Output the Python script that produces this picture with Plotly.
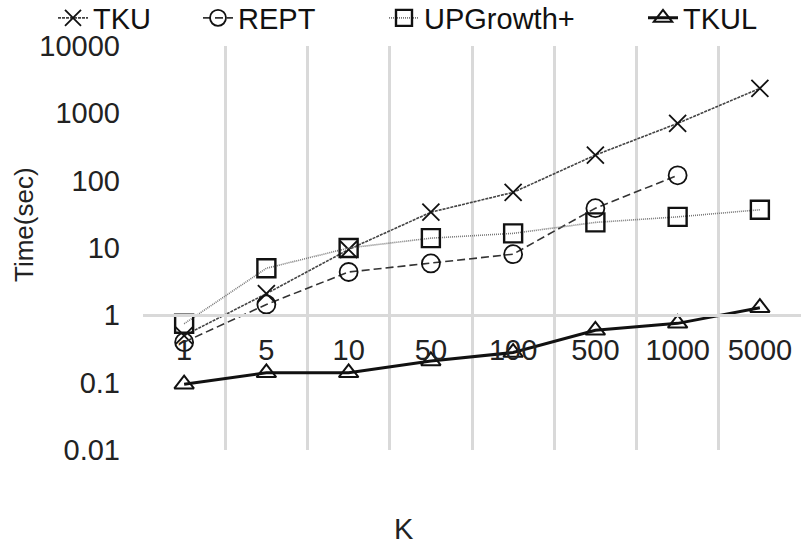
import plotly.graph_objects as go

# Running time (sec) versus K for each algorithm
k_values = ["1", "5", "10", "50", "100", "500", "1000", "5000"]
tku = [0.5, 2.1, 9.5, 34, 67, 240, 710, 2350]
rept = [0.4, 1.45, 4.4, 5.9, 8.1, 39, 120, None]
upgrowth = [0.75, 5.0, 10, 14, 16.5, 24, 29, 37]
tkul = [0.095, 0.14, 0.14, 0.21, 0.28, 0.6, 0.76, 1.3]

y_ticks = [0.01, 0.1, 1, 10, 100, 1000, 10000]
y_tick_text = ["0.01", "0.1", "1", "10", "100", "1000", "10000"]

W, H = 802, 546
FONT = "Liberation Sans, Arial, sans-serif"
GRID = "#d9d9d9"
FS = 29

series = [
    dict(name="TKU", y=tku, symbol="x-thin-open", size=17, mlw=1.8,
         color="#444444", lw=1.6, dash="3px,1px", legend="legend", lx=77),
    dict(name="REPT", y=rept, symbol="circle-open", size=18, mlw=1.8,
         color="#333333", lw=1.6, dash="8px,4px", legend="legend2", lx=222),
    dict(name="UPGrowth+", y=upgrowth, symbol="square-open", size=18, mlw=2.4,
         color="#777777", lw=1.6, dash="1px,1px", legend="legend3", lx=408),
    dict(name="TKUL", y=tkul, symbol="triangle-up-open", size=17, mlw=2.0,
         color="#111111", lw=3.0, dash="solid", legend="legend4", lx=667),
]

fig = go.Figure()
for s in series:
    fig.add_trace(go.Scatter(
        x=k_values, y=s["y"], name=s["name"], mode="lines+markers",
        line=dict(color=s["color"], width=s["lw"], dash=s["dash"]),
        marker=dict(symbol=s["symbol"], size=s["size"], color="#111111",
                    line=dict(color="#111111", width=s["mlw"])),
        legend=s["legend"], connectgaps=False,
    ))

# one legend per series so each key sits at its own spot along the top
legend_common = dict(orientation="h", font=dict(family=FONT, size=FS, color="#111111"),
                     bgcolor="rgba(0,0,0,0)", xref="container", yref="container",
                     xanchor="left", yanchor="middle", y=1 - 18 / H,
                     itemwidth=30, tracegroupgap=0)
legends = {}
for s in series:
    legends[s["legend"]] = dict(legend_common, x=(s["lx"] - 24) / W)

margin_l, margin_r, margin_t, margin_b = 143, 1, 46, 96
plot_w = W - margin_l - margin_r
plot_h = H - margin_t - margin_b

fig.update_layout(
    width=W, height=H,
    margin=dict(l=margin_l, r=margin_r, t=margin_t, b=margin_b, autoexpand=False),
    paper_bgcolor="white", plot_bgcolor="white",
    font=dict(family=FONT, size=FS, color="#222222"),
    showlegend=True,
    **legends,
    xaxis=dict(
        type="category", range=[-0.5, 7.5],
        showgrid=True, gridcolor=GRID, gridwidth=3, tickson="boundaries",
        ticks="", showline=True, linecolor=GRID, linewidth=3,
        anchor="free", position=1 / 3, side="bottom",
        ticklabelstandoff=8,
        tickfont=dict(family=FONT, size=FS, color="#222222"),
        zeroline=False,
    ),
    yaxis=dict(
        type="log", range=[-2, 4],
        tickvals=y_ticks, ticktext=y_tick_text,
        showgrid=False, zeroline=False, showline=False, ticks="",
        ticklabelstandoff=22,
        tickfont=dict(family=FONT, size=FS, color="#222222"),
    ),
    annotations=[
        dict(text="Time(sec)", textangle=-90, showarrow=False,
             xref="paper", yref="paper",
             x=(24 - margin_l) / plot_w, y=(margin_t + plot_h - 224) / plot_h,
             xanchor="center", yanchor="middle",
             font=dict(family=FONT, size=26, color="#222222")),
        dict(text="K", showarrow=False, xref="paper", yref="paper",
             x=(404 - margin_l) / plot_w, y=(margin_t + plot_h - 529) / plot_h,
             xanchor="center", yanchor="middle",
             font=dict(family=FONT, size=FS, color="#222222")),
    ],
)

fig.write_html("out.html")
